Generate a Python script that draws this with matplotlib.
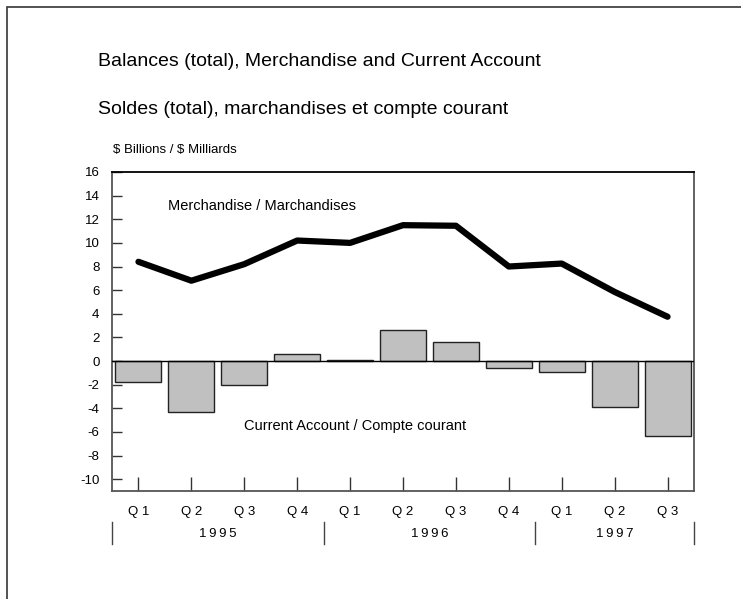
import numpy as np
import matplotlib.pyplot as plt
from matplotlib.patches import Rectangle
from matplotlib.transforms import blended_transform_factory

plt.rcParams['font.family'] = ['Liberation Sans', 'DejaVu Sans']

quarters = ['Q 1', 'Q 2', 'Q 3', 'Q 4', 'Q 1', 'Q 2', 'Q 3', 'Q 4', 'Q 1', 'Q 2', 'Q 3']
years = ['1 9 9 5', '1 9 9 6', '1 9 9 7']
year_centers = [1.5, 5.5, 9.0]
year_bounds = [-0.5, 3.5, 7.5, 10.5]
merchandise = [8.4, 6.8, 8.2, 10.2, 10.0, 11.5, 11.45, 8.0, 8.25, 5.85, 3.75]
current_account = [-1.8, -4.3, -2.0, 0.6, 0.1, 2.6, 1.6, -0.55, -0.95, -3.85, -6.35]

fig = plt.figure(figsize=(7.41, 5.99), dpi=100)
W, H = 741, 599
ax = fig.add_axes([112 / W, 1 - 491 / H, (694 - 112) / W, (491 - 172) / H])

x = np.arange(len(quarters))
ax.bar(x, current_account, width=0.87, color='#c0c0c0', edgecolor='#222222', linewidth=1.0, zorder=2)
ax.axhline(0, color='black', linewidth=1.0, zorder=3)
ax.plot(x, merchandise, color='black', linewidth=4.5, solid_capstyle='round', zorder=4)

ax.set_xlim(-0.5, 10.5)
ax.set_ylim(-11, 16)
ax.set_yticks(np.arange(-10, 17, 2))
ax.set_yticklabels([str(v) for v in range(-10, 17, 2)])
ax.set_xticks(x)
ax.set_xticklabels(quarters)
ax.tick_params(axis='y', direction='in', length=7, width=1, color='#333333', pad=9, labelsize=9.5)
ax.tick_params(axis='x', direction='in', length=10, width=1, color='#333333', pad=11, labelsize=9.5)

for side in ['left', 'bottom', 'right']:
    ax.spines[side].set_color('#555555')
    ax.spines[side].set_linewidth(1.3)
ax.spines['top'].set_color('black')
ax.spines['top'].set_linewidth(1.3)

ax.text(0.55, 13.1, 'Merchandise / Marchandises', fontsize=10.5, va='center', ha='left')
ax.text(2.0, -5.5, 'Current Account / Compte courant', fontsize=10.5, va='center', ha='left')

# year labels and separators under the quarter labels
tr = blended_transform_factory(ax.transData, fig.transFigure)
for xb in year_bounds:
    ax.plot([xb, xb], [1 - 522 / H, 1 - 544 / H], transform=tr, color='#444444',
            linewidth=1.0, clip_on=False)
for xc, yr in zip(year_centers, years):
    ax.text(xc, 1 - 534 / H, yr.replace(' ', '\u2009'), transform=tr, fontsize=9.5,
            ha='center', va='center')

fig.text(98 / W, 1 - 62 / H, 'Balances (total), Merchandise and Current Account',
         fontsize=14, ha='left', va='center')
fig.text(98 / W, 1 - 110 / H, 'Soldes (total), marchandises et compte courant',
         fontsize=14, ha='left', va='center')
fig.text(113 / W, 1 - 150 / H, r'\$ Billions / \$ Milliards', fontsize=9.5, ha='left', va='center')

# page frame, open on the right and bottom
fig.patches.append(Rectangle((7 / W, -0.1), 1.2, 1 - 7 / H + 0.1, transform=fig.transFigure,
                             fill=False, edgecolor='#444444', linewidth=1.3))

fig.savefig('out.png', dpi=100)
